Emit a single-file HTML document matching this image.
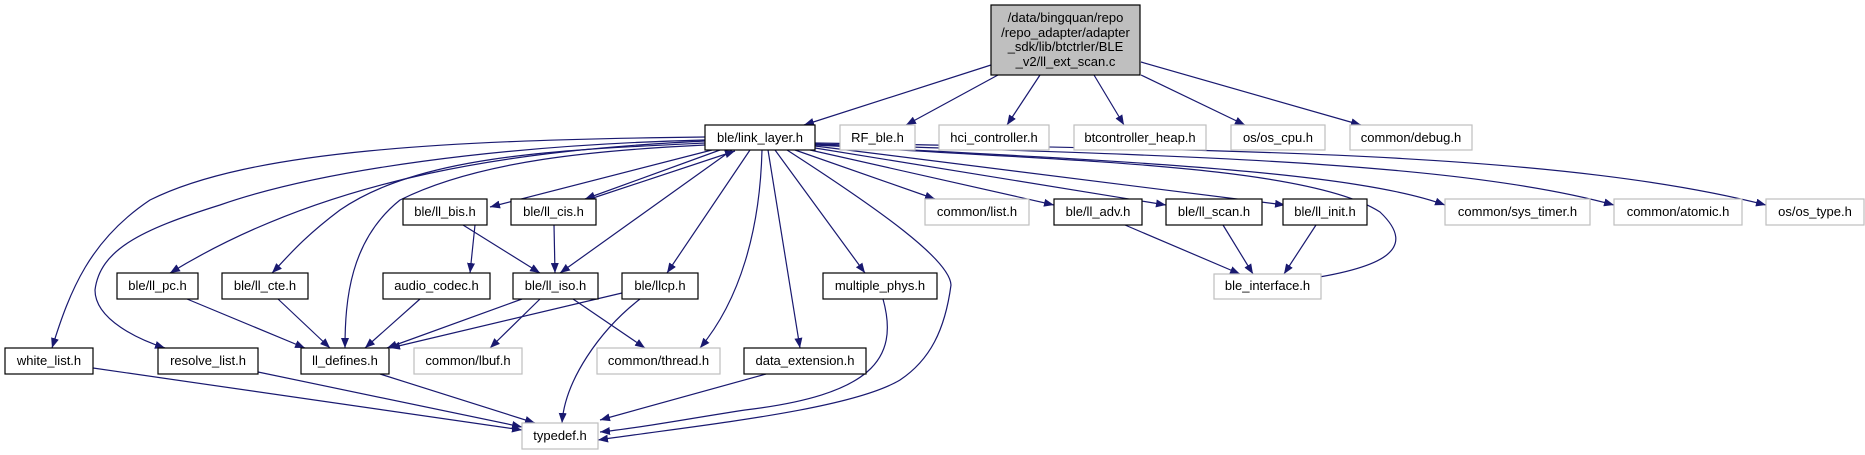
<!DOCTYPE html>
<html><head><meta charset="utf-8"><style>
html,body{margin:0;padding:0;background:#fff;}
svg{display:block;}
text{font-family:"Liberation Sans",Arial,sans-serif;font-size:13px;fill:#000;}
</style></head><body>
<svg width="1865" height="455" viewBox="0 0 1865 455" xmlns="http://www.w3.org/2000/svg">
<defs>
<marker id="a" viewBox="0 0 10 8" refX="10" refY="4" markerWidth="10" markerHeight="8" markerUnits="userSpaceOnUse" orient="auto">
<path d="M0,0 L10,4 L0,8 z" fill="#191970"/>
</marker>
</defs>
<g fill="none" stroke="#191970" stroke-width="1.2" marker-end="url(#a)">
<path d="M991,65 L804,125"/>
<path d="M998,75 L906,125"/>
<path d="M1040,75 L1007,125"/>
<path d="M1094,75 L1124,125"/>
<path d="M1141,75 L1245,125"/>
<path d="M1141,62 L1361,125"/>
<path d="M705,137 C450,140 250,150 150,200 C90,240 70,290 52,348"/>
<path d="M705,140 C500,145 320,170 220,205 C140,230 100,250 95,290 C95,320 140,340 165,348"/>
<path d="M705,141 C520,150 330,175 170,273"/>
<path d="M705,143 C560,150 420,155 340,210 C300,240 285,260 272,273"/>
<path d="M705,145 C600,150 480,160 400,200 C350,240 345,300 345,348"/>
<path d="M712,150 L490,207"/>
<path d="M720,150 L585,199"/>
<path d="M732,150 L560,273"/>
<path d="M750,150 L667,273"/>
<path d="M762,150 C760,230 740,300 700,348"/>
<path d="M768,150 L800,348"/>
<path d="M775,150 L865,273"/>
<path d="M787,150 C880,210 950,260 951,285 C945,330 930,360 900,380 C850,410 700,425 598,440"/>
<path d="M795,150 L935,199"/>
<path d="M810,150 L1054,205"/>
<path d="M815,148 L1166,205"/>
<path d="M815,146 L1285,205"/>
<path d="M815,144 C1000,160 1300,160 1380,212 C1420,250 1380,268 1307,279"/>
<path d="M815,145 C1100,160 1350,170 1445,205"/>
<path d="M815,144 C1150,155 1450,160 1614,205"/>
<path d="M815,143 C1200,150 1550,150 1766,205"/>
<path d="M590,199 L735,151"/>
<path d="M475,225 L470,273"/>
<path d="M463,225 L540,273"/>
<path d="M554,225 L555,273"/>
<path d="M522,299 L387,348"/>
<path d="M540,299 L490,348"/>
<path d="M573,299 L645,348"/>
<path d="M622,293 L390,348"/>
<path d="M640,299 C600,330 565,380 562,423"/>
<path d="M187,299 L305,348"/>
<path d="M278,299 L330,348"/>
<path d="M420,299 L365,348"/>
<path d="M380,374 L535,423"/>
<path d="M93,368 L522,430"/>
<path d="M258,372 L522,427"/>
<path d="M766,374 L600,420"/>
<path d="M883,299 C900,360 870,395 745,410 C680,420 640,428 600,432"/>
<path d="M1125,225 L1240,274"/>
<path d="M1223,225 L1253,274"/>
<path d="M1316,225 L1284,274"/>
</g>
<g stroke-width="1.2">
<rect x="991" y="5" width="149" height="70" fill="#bfbfbf" stroke="#000"/>
<text x="1065.5" y="22" text-anchor="middle">/data/bingquan/repo</text>
<text x="1065.5" y="37" text-anchor="middle">/repo_adapter/adapter</text>
<text x="1065.5" y="51" text-anchor="middle">_sdk/lib/btctrler/BLE</text>
<text x="1065.5" y="66" text-anchor="middle">_v2/ll_ext_scan.c</text>
</g>
<g fill="#fff" stroke-width="1.2">
<g stroke="#000">
<rect x="705" y="125" width="110" height="25"/>
<rect x="403" y="199" width="84" height="26"/>
<rect x="511" y="199" width="85" height="26"/>
<rect x="1054" y="199" width="88" height="26"/>
<rect x="1166" y="199" width="96" height="26"/>
<rect x="1283" y="199" width="84" height="26"/>
<rect x="117" y="273" width="81" height="26"/>
<rect x="222" y="273" width="86" height="26"/>
<rect x="383" y="273" width="107" height="26"/>
<rect x="513" y="273" width="85" height="26"/>
<rect x="622" y="273" width="76" height="26"/>
<rect x="823" y="273" width="114" height="26"/>
<rect x="5" y="348" width="88" height="26"/>
<rect x="158" y="348" width="100" height="26"/>
<rect x="301" y="348" width="88" height="26"/>
<rect x="744" y="348" width="122" height="26"/>
</g>
<g stroke="#bfbfbf">
<rect x="840" y="125" width="75" height="25"/>
<rect x="939" y="125" width="110" height="25"/>
<rect x="1074" y="125" width="132" height="25"/>
<rect x="1231" y="125" width="94" height="25"/>
<rect x="1350" y="125" width="122" height="25"/>
<rect x="925" y="199" width="104" height="26"/>
<rect x="1445" y="199" width="145" height="26"/>
<rect x="1614" y="199" width="128" height="26"/>
<rect x="1766" y="199" width="98" height="26"/>
<rect x="1214" y="274" width="107" height="25"/>
<rect x="414" y="348" width="108" height="26"/>
<rect x="597" y="348" width="123" height="26"/>
<rect x="522" y="423" width="76" height="26"/>
</g>
</g>
<g text-anchor="middle">
<text x="760" y="142">ble/link_layer.h</text>
<text x="877.5" y="142">RF_ble.h</text>
<text x="994" y="142">hci_controller.h</text>
<text x="1140" y="142">btcontroller_heap.h</text>
<text x="1278" y="142">os/os_cpu.h</text>
<text x="1411" y="142">common/debug.h</text>
<text x="445" y="216">ble/ll_bis.h</text>
<text x="553.5" y="216">ble/ll_cis.h</text>
<text x="977" y="216">common/list.h</text>
<text x="1098" y="216">ble/ll_adv.h</text>
<text x="1214" y="216">ble/ll_scan.h</text>
<text x="1325" y="216">ble/ll_init.h</text>
<text x="1517.5" y="216">common/sys_timer.h</text>
<text x="1678" y="216">common/atomic.h</text>
<text x="1815" y="216">os/os_type.h</text>
<text x="157.5" y="290">ble/ll_pc.h</text>
<text x="265" y="290">ble/ll_cte.h</text>
<text x="436.5" y="290">audio_codec.h</text>
<text x="555.5" y="290">ble/ll_iso.h</text>
<text x="660" y="290">ble/llcp.h</text>
<text x="880" y="290">multiple_phys.h</text>
<text x="1267.5" y="290">ble_interface.h</text>
<text x="49" y="365">white_list.h</text>
<text x="208" y="365">resolve_list.h</text>
<text x="345" y="365">ll_defines.h</text>
<text x="468" y="365">common/lbuf.h</text>
<text x="658.5" y="365">common/thread.h</text>
<text x="805" y="365">data_extension.h</text>
<text x="560" y="440">typedef.h</text>
</g>
</svg>
</body></html>
